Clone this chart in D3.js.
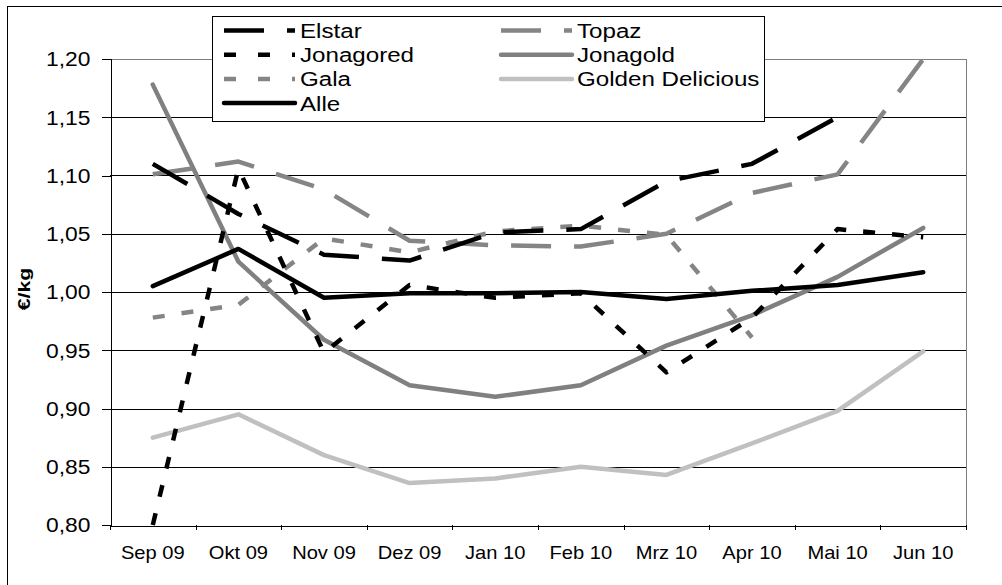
<!DOCTYPE html>
<html>
<head>
<meta charset="utf-8">
<script src="https://cdnjs.cloudflare.com/ajax/libs/d3/7.8.5/d3.min.js"></script>
<style>
  body { margin: 0; background: #fff; }
  text { font-family: "Liberation Sans", Arial, sans-serif; fill: #000; }
  .grid line { stroke: #000; stroke-width: 1; shape-rendering: crispEdges; }
</style>
</head>
<body>
<svg width="1002" height="585"></svg>
<script>
// months on the x axis
const months = ['Sep 09', 'Okt 09', 'Nov 09', 'Dez 09', 'Jan 10', 'Feb 10', 'Mrz 10', 'Apr 10', 'Mai 10', 'Jun 10'];
const yTicks = [0.80, 0.85, 0.90, 0.95, 1.00, 1.05, 1.10, 1.15, 1.20];

// prices in €/kg, null = no value
const elstar     = [1.110, 1.067, 1.032, 1.027, 1.051, 1.054, 1.095, 1.110, 1.150, null];
const topaz      = [1.101, 1.112, 1.088, 1.044, 1.040, 1.039, 1.050, 1.085, 1.101, 1.200];
const jonagored  = [0.800, 1.106, 0.948, 1.006, 0.995, 0.999, 0.931, 0.978, 1.054, 1.047];
const jonagold   = [1.178, 1.026, 0.959, 0.920, 0.910, 0.920, 0.954, 0.980, 1.013, 1.055];
const gala       = [0.978, 0.989, 1.046, 1.034, 1.052, 1.057, 1.049, 0.961, null, null];
const golden     = [0.875, 0.895, 0.860, 0.836, 0.840, 0.850, 0.843, 0.870, 0.898, 0.949];
const alle       = [1.005, 1.037, 0.995, 0.999, 0.999, 1.000, 0.994, 1.001, 1.006, 1.017];

const series = [
  { name: 'Golden Delicious', values: golden, color: '#c0c0c0', dash: null, col: 1, row: 2 },
  { name: 'Jonagold', values: jonagold, color: '#808080', dash: null, col: 1, row: 1 },
  { name: 'Gala', values: gala, color: '#858585', dash: '12 17', legDash: '12 22', col: 0, row: 2 },
  { name: 'Topaz', values: topaz, color: '#858585', dash: '40 23', legDash: '40 23', col: 1, row: 0 },
  { name: 'Jonagored', values: jonagored, color: '#000', dash: '12 17', legDash: '12 22', col: 0, row: 1 },
  { name: 'Elstar', values: elstar, color: '#000', dash: '40 23', legDash: '40 23', col: 0, row: 0 },
  { name: 'Alle', values: alle, color: '#000', dash: null, col: 0, row: 3 }
];

const pLeft = 110, pRight = 966, pTop = 59, pBottom = 525;
const svg = d3.select('svg');

// outer frame
svg.append('rect')
  .attr('x', 7.5).attr('y', 6.5).attr('width', 1000).attr('height', 600)
  .attr('fill', 'none').attr('stroke', '#000');

const x = d3.scaleBand().domain(months).range([pLeft, pRight]).padding(0);
const y = d3.scaleLinear().domain([0.8, 1.2]).range([pBottom, pTop]);

// gridlines
svg.append('g').attr('class', 'grid')
  .selectAll('line')
  .data(yTicks.filter(v => v > 0.8 && v < 1.2))
  .join('line')
  .attr('x1', pLeft).attr('x2', pRight)
  .attr('y1', d => Math.round(y(d)) + 0.5).attr('y2', d => Math.round(y(d)) + 0.5);

// plot area border (top + right, grey)
svg.append('path')
  .attr('d', `M${pLeft},${Math.round(pTop) + 0.5}H${pRight + 0.5}V${pBottom}`)
  .attr('fill', 'none').attr('stroke', '#808080').attr('shape-rendering', 'crispEdges');

// y axis
const yAxis = svg.append('g')
  .attr('transform', `translate(${pLeft + 0.5},0)`)
  .call(d3.axisLeft(y).tickValues(yTicks).tickSize(9).tickFormat(d => d3.format('.2f')(d).replace('.', ',')));
yAxis.select('.domain').attr('stroke', '#000').attr('shape-rendering', 'crispEdges');
yAxis.selectAll('.tick line').attr('stroke', '#000').attr('shape-rendering', 'crispEdges');
yAxis.selectAll('.tick text')
  .attr('x', null).attr('dy', null)
  .attr('font-size', 19.5)
  .attr('text-anchor', 'end')
  .attr('transform', 'translate(-20,6.8) scale(1.17,1)');

// x axis
const xAxis = svg.append('g')
  .attr('transform', `translate(0,${pBottom + 0.5})`)
  .call(d3.axisBottom(x).tickSize(0).tickSizeOuter(0));
xAxis.select('.domain').attr('stroke', '#000').attr('shape-rendering', 'crispEdges');
xAxis.selectAll('.tick text')
  .attr('y', null).attr('dy', null)
  .attr('font-size', 17.5)
  .attr('transform', 'translate(0,33) scale(1.15,1)');
// tick marks between categories
svg.append('g').selectAll('line')
  .data(d3.range(months.length + 1))
  .join('line')
  .attr('x1', i => Math.round(pLeft + i * x.bandwidth()) + 0.5)
  .attr('x2', i => Math.round(pLeft + i * x.bandwidth()) + 0.5)
  .attr('y1', pBottom).attr('y2', pBottom + 5)
  .attr('stroke', '#000').attr('shape-rendering', 'crispEdges');

// axis title
svg.append('text')
  .attr('transform', `translate(30,${(pTop + pBottom) / 2 - 3}) rotate(-90) scale(1.25,1)`)
  .attr('text-anchor', 'middle')
  .attr('font-size', 17).attr('font-weight', 'bold')
  .text('€/kg');

// lines
const line = d3.line()
  .defined(d => d.v != null)
  .x(d => x(d.m) + x.bandwidth() / 2)
  .y(d => y(d.v));

svg.append('g').selectAll('path')
  .data(series)
  .join('path')
  .attr('d', s => line(s.values.map((v, i) => ({ m: months[i], v }))))
  .attr('fill', 'none')
  .attr('stroke', s => s.color)
  .attr('stroke-width', 4.5)
  .attr('stroke-linejoin', 'round')
  .attr('stroke-linecap', s => s.dash ? 'butt' : 'round')
  .attr('stroke-dasharray', s => s.dash);

// legend
const leg = svg.append('g');
leg.append('rect')
  .attr('x', 212.5).attr('y', 16.5).attr('width', 552).attr('height', 105)
  .attr('fill', '#fff').attr('stroke', '#000');

const colX = [224, 501];
const items = leg.selectAll('g.item')
  .data(series.slice().sort((a, b) => a.col - b.col || a.row - b.row))
  .join('g')
  .attr('class', 'item')
  .attr('transform', s => `translate(${colX[s.col]},${30.5 + s.row * 24.2})`);

items.append('line')
  .attr('x1', 0).attr('x2', 71)
  .attr('stroke', s => s.color)
  .attr('stroke-width', 4.5)
  .attr('stroke-linecap', s => s.dash ? 'butt' : 'round')
  .attr('stroke-dasharray', s => s.legDash || null);

items.append('text')
  .attr('transform', 'translate(76,7.5) scale(1.15,1)')
  .attr('font-size', 21)
  .text(s => s.name);
</script>
</body>
</html>
